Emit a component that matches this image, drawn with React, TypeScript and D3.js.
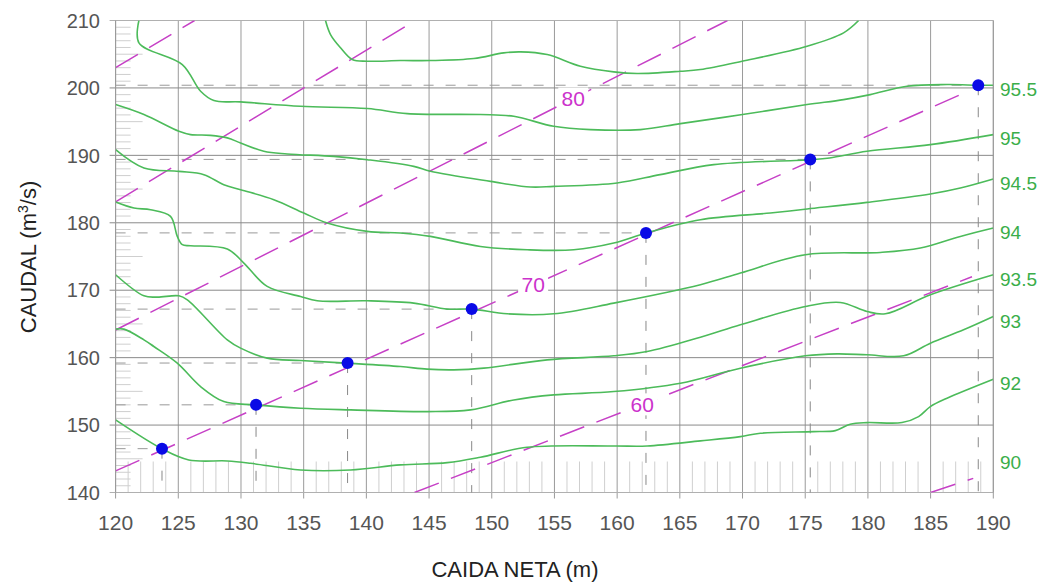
import React from 'react';
import * as d3 from 'd3';

const W = 1041;
const HGT = 585;

const xTicks = [120, 125, 130, 135, 140, 145, 150, 155, 160, 165, 170, 175, 180, 185, 190];
const yTicks = [140, 150, 160, 170, 180, 190, 200, 210];

// Efficiency contour curves: [CAIDA NETA (m), CAUDAL (m3/s)]
const eff96 = [[136.74, 210], [137.14, 207.92], [137.94, 205.95], [138.87, 204.21], [140.07, 203.96], [142.72, 204.06], [145.11, 204.06], [148.57, 204.36], [150.96, 205.2], [152.29, 205.35], [154.42, 204.95], [157.07, 203.22], [159.73, 202.38], [161.59, 202.13], [165.05, 202.47], [166.64, 202.73], [169.96, 203.96], [175.15, 206.18], [178.06, 208.17], [179.26, 210]];
const eff955 = [[121.86, 210], [121.86, 206.69], [125.32, 203.47], [126.78, 199.5], [127.84, 198.12], [129.97, 197.93], [134.75, 197.28], [140.07, 196.94], [143.26, 196.19], [149.1, 196.05], [151.76, 195.79], [154.94, 194.31], [157.87, 193.82], [161.86, 193.82], [165.05, 194.71], [170.0, 196.05], [175.15, 197.53], [178.06, 198.27], [180.19, 199.01], [183.12, 200.25], [186.31, 200.5], [188.83, 200.4], [190.0, 200.4]];
const eff95 = [[120, 197.53], [122.26, 196.05], [125.05, 193.57], [125.98, 193.08], [127.57, 192.97], [128.91, 192.59], [129.97, 191.84], [131.82, 190.6], [133.69, 190.21], [137.4, 189.85], [140.07, 189.36], [143.78, 188.37], [145.11, 187.63], [149.9, 186.14], [153.09, 185.31], [154.94, 185.4], [160.0, 185.91], [163.43, 187.14], [167.7, 188.62], [175.42, 189.36], [176.95, 189.62], [179.93, 190.6], [184.98, 191.59], [190.0, 193.08]];
const eff945 = [[120, 190.85], [122.26, 188.13], [125.05, 187.63], [127.04, 187.14], [128.63, 185.65], [129.97, 184.91], [132.62, 183.43], [135.01, 181.45], [136.88, 179.97], [140.07, 178.72], [142.72, 178.48], [145.11, 177.98], [149.1, 176.49], [152.82, 176.0], [156.54, 176.0], [159.73, 177.0], [162.31, 178.48], [166.64, 180.46], [172.22, 181.45], [175.15, 182.05], [179.93, 183.03], [184.98, 184.27], [187.37, 185.16], [190.0, 186.5]];
const eff94 = [[120, 183.08], [121.46, 182.19], [122.79, 181.94], [124.38, 180.95], [124.92, 177.98], [125.32, 176.75], [125.98, 176.6], [128.91, 176.11], [130.23, 174.03], [132.09, 170.56], [134.75, 169.07], [136.08, 168.43], [140.07, 168.43], [143.78, 168.09], [146.45, 167.2], [148.36, 167.2], [151.23, 166.5], [154.94, 166.5], [159.73, 168.09], [166.64, 170.81], [169.83, 172.54], [175.01, 175.26], [180.99, 175.6], [184.18, 176.26], [187.37, 177.98], [190.0, 179.22]];
const eff935 = [[120, 172.29], [122.26, 169.17], [123.32, 168.98], [125.05, 169.17], [125.72, 168.58], [128.91, 162.64], [129.97, 161.41], [132.09, 159.93], [134.75, 159.57], [138.47, 159.18], [142.72, 158.68], [144.85, 158.29], [146.97, 158.19], [149.36, 158.44], [154.42, 159.67], [159.73, 160.27], [162.39, 160.91], [166.64, 163.04], [169.83, 164.87], [175.01, 167.59], [177.8, 168.18], [179.93, 166.84], [181.39, 166.5], [184.98, 169.32], [190.0, 172.29]];
const eff93 = [[120, 164.23], [120.66, 164.23], [122.26, 162.64], [123.05, 161.65], [124.92, 159.18], [126.78, 155.71], [128.63, 153.48], [131.16, 152.99], [134.75, 152.5], [138.74, 152.25], [144.85, 152.0], [148.3, 152.25], [151.76, 153.73], [154.94, 154.48], [159.73, 154.97], [165.05, 156.21], [169.83, 158.44], [175.01, 160.27], [177.54, 160.56], [179.93, 160.42], [182.85, 160.27], [184.98, 162.15], [187.63, 164.13], [190.0, 166.1]];
const eff92 = [[120, 150.77], [123.72, 146.46], [125.84, 144.83], [128.91, 144.68], [130.76, 144.34], [134.75, 143.34], [138.74, 143.34], [142.72, 144.09], [146.45, 144.43], [149.1, 145.23], [152.82, 146.71], [159.73, 146.9], [162.39, 146.9], [166.64, 147.65], [169.83, 148.29], [171.42, 148.79], [175.67, 149.03], [177.4, 149.18], [178.59, 150.13], [179.93, 150.37], [182.72, 150.37], [184.04, 151.26], [184.98, 152.74], [186.31, 153.99], [190.0, 156.81]];

const effCurves = [eff96, eff955, eff95, eff945, eff94, eff935, eff93, eff92];

// Right-side efficiency labels and the caudal at which each is written
const effLabels = ['95.5', '95', '94.5', '94', '93.5', '93', '92', '90'];
const effLabelQ = [200.4, 193.1, 186.5, 179.2, 172.3, 166.1, 156.8, 145.1];

// Magenta dashed lines (start / end points)
const magLineA = [[120, 203.0], [126.3, 210]];
const magLineB = [[120, 183.1], [143.9, 210]];
const magLine80 = [[120, 164.1], [168.8, 210]];
const magLine70 = [[120, 143.2], [187.6, 199.2]];
const magLine60 = [[143.84, 140], [188.3, 172.0]];
const magLineF = [[185.0, 140], [188.4, 142.1]];
const magLines = [magLineA, magLineB, magLine80, magLine70, magLine60, magLineF];

const magLabels = ['80', '70', '60'];
const magLabelH = [156.5, 153.3, 162.0];
const magLabelLine = [magLine80, magLine70, magLine60];

// Operating points
const dotH = [123.7, 131.2, 138.5, 148.4, 162.3, 175.4, 188.8];
const dotQ = [146.5, 153.0, 159.2, 167.2, 178.5, 189.4, 200.4];

const minorQ = d3.range(141, 210).filter((v) => v % 10 !== 0);
const minorH = d3.range(121, 190).filter((v) => v % 5 !== 0);

export default function App() {
  const x = d3.scaleLinear().domain([120, 190]).range([115.6, 993.3]);
  const y = d3.scaleLinear().domain([140, 210]).range([492.5, 20.5]);

  const curveLine = d3
    .line<number[]>()
    .x((d) => x(d[0]))
    .y((d) => y(d[1]))
    .curve(d3.curveCatmullRom.alpha(0.5));
  const straight = d3
    .line<number[]>()
    .x((d) => x(d[0]))
    .y((d) => y(d[1]));

  const green = '#4cbb5a';
  const greenText = '#3aae4a';
  const magenta = '#c640c6';
  const gridCol = '#9a9a9a';
  const font = 'Liberation Sans, Arial, sans-serif';

  const x0 = x(120), x1 = x(190), y0 = y(140), y1 = y(210);

  return (
    <svg
      width={W}
      height={HGT}
      style={{ position: 'absolute', left: 0, top: 0, display: 'block', background: '#fff' }}
      fontFamily={font}
    >
      <defs>
        <clipPath id="plot">
          <rect x={x0} y={y1} width={x1 - x0} height={y0 - y1} />
        </clipPath>
      </defs>
      <rect x={0} y={0} width={W} height={HGT} fill="#fff" />

      {/* minor ticks */}
      {minorQ.map((q) => (
        <line key={'mq' + q} x1={x0} x2={x0 + (q % 5 === 0 ? 27 : 15)} y1={y(q)} y2={y(q)} stroke="#cfcfcf" strokeWidth={1} />
      ))}
      {minorH.map((h) => (
        <line key={'mh' + h} x1={x(h)} x2={x(h)} y1={y0} y2={y0 - 31} stroke="#cfcfcf" strokeWidth={1} />
      ))}

      {/* grid */}
      {xTicks.map((t) => (
        <line key={'gx' + t} x1={x(t)} x2={x(t)} y1={y1} y2={y0 + 6} stroke={gridCol} strokeWidth={1} />
      ))}
      {yTicks.map((t) => (
        <line key={'gy' + t} x1={x0 - 6} x2={x1} y1={y(t)} y2={y(t)} stroke={t === 210 || t === 140 ? '#b0b0b0' : '#8a8a8a'} strokeWidth={1} />
      ))}

      {/* dashed reference lines from dots */}
      {dotH.map((h, i) => (
        <g key={'dl' + i}>
          <line x1={x0} x2={x(h)} y1={y(dotQ[i])} y2={y(dotQ[i])} stroke="#999" strokeWidth={1} strokeDasharray="10,12" />
          <line x1={x(h)} x2={x(h)} y1={y(dotQ[i])} y2={y0} stroke="#888" strokeWidth={1} strokeDasharray="10,12" />
        </g>
      ))}

      {/* magenta lines */}
      <g clipPath="url(#plot)">
        {magLines.map((l, i) => (
          <path key={'ml' + i} d={straight(l) || ''} fill="none" stroke={magenta} strokeWidth={1.5} strokeDasharray="26,13" />
        ))}
      </g>

      {/* efficiency curves */}
      <g clipPath="url(#plot)">
        {effCurves.map((c, i) => (
          <path key={'ec' + i} d={curveLine(c) || ''} fill="none" stroke={green} strokeWidth={1.6} />
        ))}
      </g>

      {/* magenta labels */}
      {magLabels.map((lab, i) => {
        const l = magLabelLine[i];
        const h = magLabelH[i];
        const q = l[0][1] + ((l[1][1] - l[0][1]) / (l[1][0] - l[0][0])) * (h - l[0][0]);
        return (
          <g key={'mlab' + i}>
            <rect x={x(h) - 15} y={y(q) - 11} width={30} height={22} fill="#fff" />
            <text x={x(h)} y={y(q)} dy="0.36em" textAnchor="middle" fontSize={21} fill="#cc33cc">
              {lab}
            </text>
          </g>
        );
      })}

      {/* dots */}
      {dotH.map((h, i) => (
        <circle key={'dot' + i} cx={x(h)} cy={y(dotQ[i])} r={6} fill="#0a0ae6" />
      ))}

      {/* axis lines */}
      <line x1={x0} x2={x0} y1={y1} y2={y0} stroke={gridCol} strokeWidth={1} />
      <line x1={x1} x2={x1} y1={y1} y2={y0} stroke={gridCol} strokeWidth={1} />

      {/* tick labels */}
      {yTicks.map((t) => (
        <text key={'yl' + t} x={100} y={y(t)} dy="0.36em" textAnchor="end" fontSize={20} fill="#555">
          {t}
        </text>
      ))}
      {xTicks.map((t) => (
        <text key={'xl' + t} x={x(t)} y={530} textAnchor="middle" fontSize={21} fill="#555">
          {t}
        </text>
      ))}

      {/* right efficiency labels */}
      {effLabels.map((lab, i) => (
        <text key={'el' + i} x={1000} y={y(effLabelQ[i]) + 11} fontSize={19} fill={greenText}>
          {lab}
        </text>
      ))}

      {/* axis titles */}
      <text x={515} y={577} textAnchor="middle" fontSize={22} fill="#222">
        CAIDA NETA (m)
      </text>
      <text transform={`translate(36, 257) rotate(-90)`} textAnchor="middle" fontSize={22} fill="#222">
        CAUDAL (m
        <tspan fontSize={14} dy={-8}>3</tspan>
        <tspan dy={8}>/s)</tspan>
      </text>
    </svg>
  );
}
